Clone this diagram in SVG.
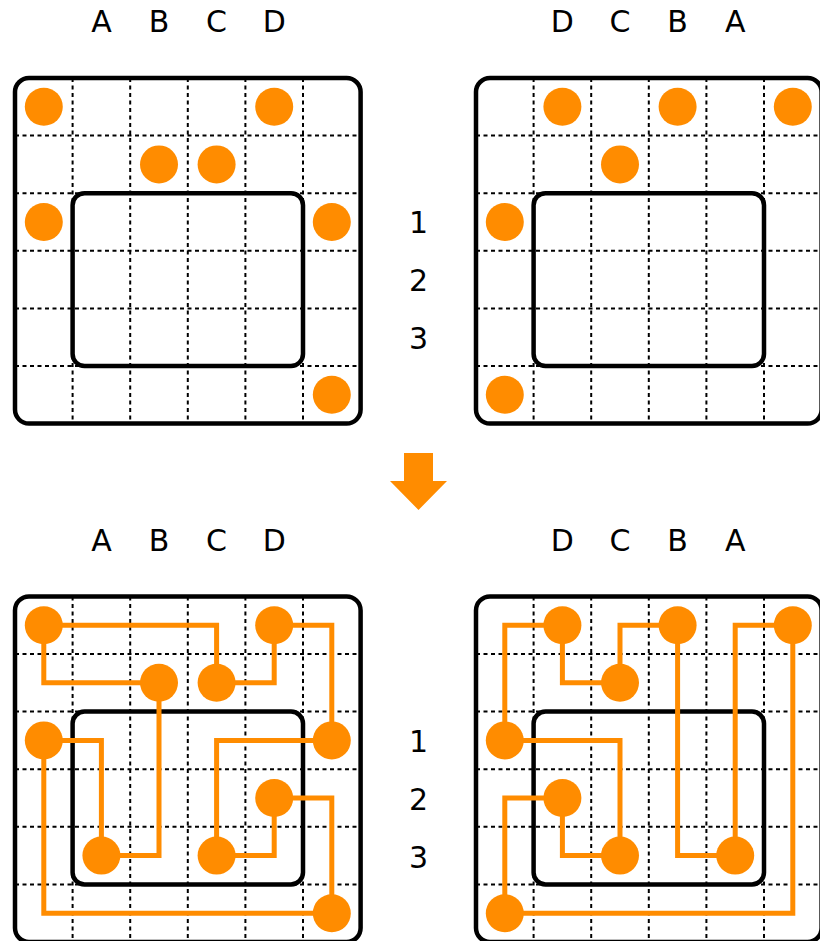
<svg xmlns="http://www.w3.org/2000/svg" xmlns:xlink="http://www.w3.org/1999/xlink" width="820" height="941" viewBox="0 0 820 941">
<style>
.bg{fill:#fff}
.frame{fill:none;stroke:#000;stroke-width:4.5}
.inner{fill:none;stroke:#000;stroke-width:4.5}
.grid{stroke:#000;stroke-width:2;stroke-dasharray:4 3.5;fill:none}
.dot{fill:#FF8C00}
.wire{fill:none;stroke:#FF8C00;stroke-width:5;stroke-linejoin:miter;stroke-linecap:butt}
.lbl{font-family:"DejaVu Sans","Liberation Sans",sans-serif;font-size:30px;fill:#000;text-anchor:middle}
</style>
<defs>
<g id="panel">
<rect x="0" y="0" width="345.6" height="345.6" rx="14" class="bg"/>
<path class="grid" d="M57.6,0V345.6M115.2,0V345.6M172.8,0V345.6M230.4,0V345.6M288,0V345.6M0,57.6H345.6M0,115.2H345.6M0,172.8H345.6M0,230.4H345.6M0,288H345.6"/>
<rect x="57.6" y="115.2" width="230.4" height="172.8" rx="12" class="inner"/>
<rect x="0" y="0" width="345.6" height="345.6" rx="14" class="frame"/>
</g>
</defs>
<rect width="820" height="941" fill="#fff"/>
<g id="panels">
<use xlink:href="#panel" href="#panel" transform="translate(15,78)"/>
<use xlink:href="#panel" href="#panel" transform="translate(476,78)"/>
<use xlink:href="#panel" href="#panel" transform="translate(15,596.4)"/>
<use xlink:href="#panel" href="#panel" transform="translate(476,596.4)"/>
</g>
<g id="labels">
<text class="lbl" x="101.4" y="32">A</text>
<text class="lbl" x="159" y="32">B</text>
<text class="lbl" x="216.6" y="32">C</text>
<text class="lbl" x="274.2" y="32">D</text>
<text class="lbl" x="562.4" y="32">D</text>
<text class="lbl" x="620" y="32">C</text>
<text class="lbl" x="677.6" y="32">B</text>
<text class="lbl" x="735.2" y="32">A</text>
<text class="lbl" x="418.5" y="233">1</text>
<text class="lbl" x="418.5" y="291">2</text>
<text class="lbl" x="418.5" y="349">3</text>
<text class="lbl" x="101.4" y="550.5">A</text>
<text class="lbl" x="159" y="550.5">B</text>
<text class="lbl" x="216.6" y="550.5">C</text>
<text class="lbl" x="274.2" y="550.5">D</text>
<text class="lbl" x="562.4" y="550.5">D</text>
<text class="lbl" x="620" y="550.5">C</text>
<text class="lbl" x="677.6" y="550.5">B</text>
<text class="lbl" x="735.2" y="550.5">A</text>
<text class="lbl" x="418.5" y="751.5">1</text>
<text class="lbl" x="418.5" y="809.5">2</text>
<text class="lbl" x="418.5" y="867.5">3</text>
</g>
<g id="arrow">
<polygon class="dot" points="404,453 433,453 433,481 447,481 418.5,510 390,481 404,481"/>
</g>
<g id="connectors">
<path class="wire" d="M43.8,625.2H216.6V682.8"/>
<path class="wire" d="M43.8,625.2V682.8H159"/>
<path class="wire" d="M274.2,625.2V682.8H216.6"/>
<path class="wire" d="M274.2,625.2H331.8V740.4"/>
<path class="wire" d="M159,682.8V855.6H101.4"/>
<path class="wire" d="M43.8,740.4H101.4V855.6"/>
<path class="wire" d="M43.8,740.4V913.2H331.8"/>
<path class="wire" d="M331.8,740.4H216.6V855.6"/>
<path class="wire" d="M274.2,798V855.6H216.6"/>
<path class="wire" d="M274.2,798H331.8V913.2"/>
<path class="wire" d="M562.4,625.2H504.8V740.4"/>
<path class="wire" d="M562.4,625.2V682.8H620"/>
<path class="wire" d="M677.6,625.2H620V682.8"/>
<path class="wire" d="M677.6,625.2V855.6H735.2"/>
<path class="wire" d="M792.8,625.2H735.2V855.6"/>
<path class="wire" d="M792.8,625.2V913.2H504.8"/>
<path class="wire" d="M504.8,740.4H620V855.6"/>
<path class="wire" d="M562.4,798V855.6H620"/>
<path class="wire" d="M562.4,798H504.8V913.2"/>
</g>
<g id="top-left-dots">
<g id="tl-a0"><circle class="dot" cx="43.8" cy="106.8" r="19"/></g>
<g id="tl-e0"><circle class="dot" cx="274.2" cy="106.8" r="19"/></g>
<g id="tl-c1"><circle class="dot" cx="159" cy="164.4" r="19"/></g>
<g id="tl-d1"><circle class="dot" cx="216.6" cy="164.4" r="19"/></g>
<g id="tl-a2"><circle class="dot" cx="43.8" cy="222" r="19"/></g>
<g id="tl-f2"><circle class="dot" cx="331.8" cy="222" r="19"/></g>
<g id="tl-f5"><circle class="dot" cx="331.8" cy="394.8" r="19"/></g>
</g>
<g id="top-right-dots">
<g id="tr-b0"><circle class="dot" cx="562.4" cy="106.8" r="19"/></g>
<g id="tr-d0"><circle class="dot" cx="677.6" cy="106.8" r="19"/></g>
<g id="tr-f0"><circle class="dot" cx="792.8" cy="106.8" r="19"/></g>
<g id="tr-c1"><circle class="dot" cx="620" cy="164.4" r="19"/></g>
<g id="tr-a2"><circle class="dot" cx="504.8" cy="222" r="19"/></g>
<g id="tr-a5"><circle class="dot" cx="504.8" cy="394.8" r="19"/></g>
</g>
<g id="bottom-left-dots">
<g id="bl-a0"><circle class="dot" cx="43.8" cy="625.2" r="19"/></g>
<g id="bl-e0"><circle class="dot" cx="274.2" cy="625.2" r="19"/></g>
<g id="bl-c1"><circle class="dot" cx="159" cy="682.8" r="19"/></g>
<g id="bl-d1"><circle class="dot" cx="216.6" cy="682.8" r="19"/></g>
<g id="bl-a2"><circle class="dot" cx="43.8" cy="740.4" r="19"/></g>
<g id="bl-f2"><circle class="dot" cx="331.8" cy="740.4" r="19"/></g>
<g id="bl-e3"><circle class="dot" cx="274.2" cy="798" r="19"/></g>
<g id="bl-b4"><circle class="dot" cx="101.4" cy="855.6" r="19"/></g>
<g id="bl-d4"><circle class="dot" cx="216.6" cy="855.6" r="19"/></g>
<g id="bl-f5"><circle class="dot" cx="331.8" cy="913.2" r="19"/></g>
</g>
<g id="bottom-right-dots">
<g id="br-b0"><circle class="dot" cx="562.4" cy="625.2" r="19"/></g>
<g id="br-d0"><circle class="dot" cx="677.6" cy="625.2" r="19"/></g>
<g id="br-f0"><circle class="dot" cx="792.8" cy="625.2" r="19"/></g>
<g id="br-c1"><circle class="dot" cx="620" cy="682.8" r="19"/></g>
<g id="br-a2"><circle class="dot" cx="504.8" cy="740.4" r="19"/></g>
<g id="br-b3"><circle class="dot" cx="562.4" cy="798" r="19"/></g>
<g id="br-c4"><circle class="dot" cx="620" cy="855.6" r="19"/></g>
<g id="br-e4"><circle class="dot" cx="735.2" cy="855.6" r="19"/></g>
<g id="br-a5"><circle class="dot" cx="504.8" cy="913.2" r="19"/></g>
</g>
</svg>
